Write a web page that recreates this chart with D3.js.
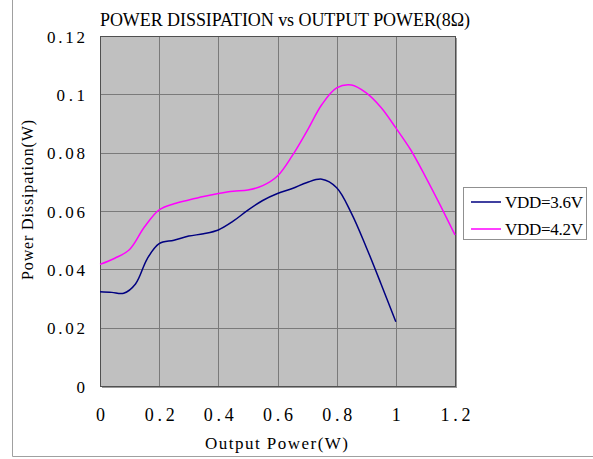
<!DOCTYPE html>
<html><head><meta charset="utf-8">
<script src="https://cdn.jsdelivr.net/npm/d3@7"></script>
<style>html,body{margin:0;padding:0;background:#fff;}svg{display:block;}</style>
</head><body>
<svg id="chart" width="593" height="459"></svg>
<script>
// ---- data ----
const xTicks = [0, 0.2, 0.4, 0.6, 0.8, 1, 1.2];
const xTickLabels = ["0", "0.2", "0.4", "0.6", "0.8", "1", "1.2"];
const yTicks = [0, 0.02, 0.04, 0.06, 0.08, 0.1, 0.12];
const yTickLabels = ["0", "0.02", "0.04", "0.06", "0.08", "0.1", "0.12"];
const seriesNames = ["VDD=3.6V", "VDD=4.2V"];
const x36 = [0, 0.04, 0.08, 0.12, 0.16, 0.2, 0.25, 0.3, 0.35, 0.4, 0.45, 0.5, 0.55, 0.6, 0.65, 0.7, 0.75, 0.8, 0.85, 0.9, 0.95, 1.0];
const y36 = [0.0323, 0.0321, 0.0318, 0.0350, 0.0437, 0.0488, 0.0500, 0.0514, 0.0522, 0.0535, 0.0565, 0.0603, 0.0636, 0.0660, 0.0677, 0.0698, 0.0709, 0.0680, 0.0592, 0.0476, 0.0350, 0.0220];
const x42 = [0, 0.05, 0.1, 0.15, 0.2, 0.25, 0.3, 0.35, 0.4, 0.45, 0.5, 0.55, 0.6, 0.65, 0.7, 0.75, 0.8, 0.85, 0.9, 0.95, 1.0, 1.05, 1.1, 1.15, 1.2];
const y42 = [0.0417, 0.0438, 0.0468, 0.0545, 0.0604, 0.0625, 0.0638, 0.0650, 0.0660, 0.0668, 0.0672, 0.0687, 0.0720, 0.0790, 0.0875, 0.0965, 0.1022, 0.1032, 0.1005, 0.0955, 0.0885, 0.0810, 0.0718, 0.0620, 0.0518];
const titleText = "POWER DISSIPATION vs OUTPUT POWER(8Ω)";
const xTitle = "Output Power(W)";
const yTitle = "Power Dissipation(W)";

// ---- layout ----
const svg = d3.select("#chart");
const FONT = "'Liberation Serif', 'Times New Roman', serif";
const L = 100, R = 455, T = 36, B = 386;
const x = d3.scaleLinear().domain([0, 1.2]).range([L, R]);
const y = d3.scaleLinear().domain([0, 0.12]).range([B, T]);

// outer frame (left + bottom)
svg.append("line").attr("x1", 12.5).attr("x2", 12.5).attr("y1", 0).attr("y2", 456.5).attr("stroke", "#a0a0a0");
svg.append("line").attr("x1", 12.5).attr("x2", 593).attr("y1", 456.5).attr("y2", 456.5).attr("stroke", "#a0a0a0");

// plot shadow + background
svg.append("rect").attr("x", L + 2).attr("y", T + 2).attr("width", R - L).attr("height", B - T).attr("fill", "#9a9a9a");
svg.append("rect").attr("x", L).attr("y", T).attr("width", R - L).attr("height", B - T).attr("fill", "#c0c0c0");

// grid
const g = svg.append("g");
g.selectAll(".vg").data(xTicks).join("line")
  .attr("x1", d => Math.round(x(d)) + 0.5).attr("x2", d => Math.round(x(d)) + 0.5)
  .attr("y1", T).attr("y2", B).attr("stroke", "#7a7a7a").attr("stroke-width", 1);
g.selectAll(".hg").data(yTicks).join("line")
  .attr("y1", d => Math.round(y(d)) + 0.5).attr("y2", d => Math.round(y(d)) + 0.5)
  .attr("x1", L).attr("x2", R).attr("stroke", "#7a7a7a").attr("stroke-width", 1);
svg.append("rect").attr("x", L + 0.5).attr("y", T + 0.5).attr("width", R - L).attr("height", B - T)
  .attr("fill", "none").attr("stroke", "#505050").attr("stroke-width", 1);

// axes (labels only, through d3 axis)
const xAxis = d3.axisBottom(x).tickValues(xTicks).tickFormat((d, i) => xTickLabels[i]).tickSize(0).tickPadding(0);
const xa = svg.append("g").attr("transform", `translate(0,${B})`).call(xAxis);
xa.select(".domain").remove();
xa.selectAll("text").attr("font-family", FONT).attr("font-size", 18).attr("fill", "#000")
  .attr("dy", null).attr("y", 35)
  .attr("textLength", (d, i) => xTickLabels[i].length * 10).attr("lengthAdjust", "spacing");

const yAxis = d3.axisLeft(y).tickValues(yTicks).tickFormat((d, i) => yTickLabels[i]).tickSize(0).tickPadding(0);
const ya = svg.append("g").attr("transform", `translate(${L},0)`).call(yAxis);
ya.select(".domain").remove();
ya.selectAll("text").attr("font-family", FONT).attr("font-size", 17).attr("fill", "#000")
  .attr("dy", "0.36em").attr("x", -15)
  .attr("textLength", (d, i) => yTickLabels[i].length * 9.5).attr("lengthAdjust", "spacing");

// titles
svg.append("text").attr("x", 100).attr("y", 26).attr("font-family", FONT).attr("font-size", 18)
  .attr("textLength", 370).attr("lengthAdjust", "spacing").text(titleText);
svg.append("text").attr("x", 276.5).attr("y", 449).attr("text-anchor", "middle").attr("font-family", FONT).attr("font-size", 17)
  .attr("textLength", 143).attr("lengthAdjust", "spacing").text(xTitle);
svg.append("text").attr("transform", "translate(33,200) rotate(-90)").attr("text-anchor", "middle")
  .attr("font-family", FONT).attr("font-size", 16)
  .attr("textLength", 160).attr("lengthAdjust", "spacing").text(yTitle);

// lines
const line = d3.line().x(d => x(d[0])).y(d => y(d[1])).curve(d3.curveCatmullRom.alpha(0.5));
const s36 = x36.map((v, i) => [v, y36[i]]);
const s42 = x42.map((v, i) => [v, y42[i]]);
const colors = ["#000080", "#ff00ff"];
svg.append("path").datum(s36).attr("d", line).attr("fill", "none").attr("stroke", colors[0]).attr("stroke-width", 1.5);
svg.append("path").datum(s42).attr("d", line).attr("fill", "none").attr("stroke", colors[1]).attr("stroke-width", 1.5);

// legend
const lg = svg.append("g");
lg.append("rect").attr("x", 463.5).attr("y", 187.5).attr("width", 123).attr("height", 52)
  .attr("fill", "#fff").attr("stroke", "#909090");
seriesNames.forEach((n, i) => {
  const yy = 202 + i * 27;
  lg.append("line").attr("x1", 471).attr("x2", 501).attr("y1", yy).attr("y2", yy).attr("stroke", colors[i]).attr("stroke-width", 1.5);
  lg.append("text").attr("x", 505).attr("y", yy + 6).attr("font-family", FONT).attr("font-size", 17)
    .attr("textLength", 78).attr("lengthAdjust", "spacing").text(n);
});
</script>
</body></html>
